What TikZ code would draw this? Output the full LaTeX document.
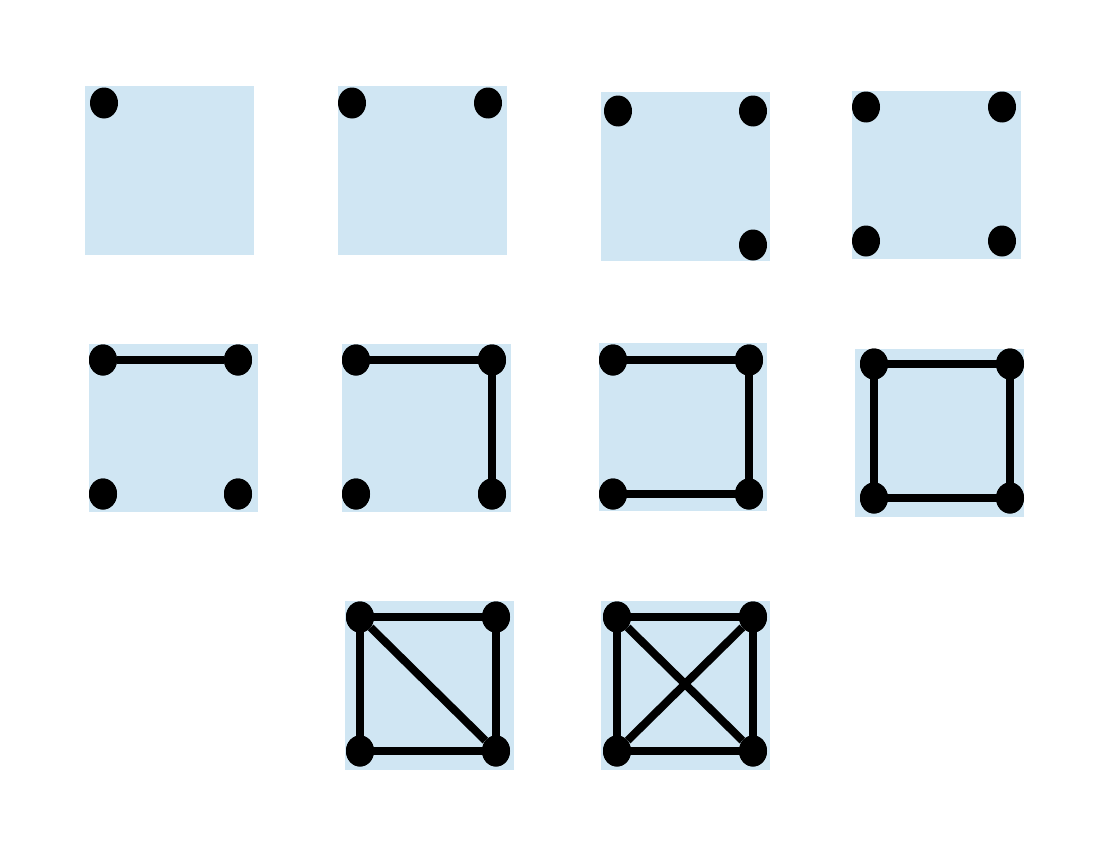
\documentclass[tikz,border=0pt]{standalone}
\usetikzlibrary{shapes.geometric}
\definecolor{panel}{RGB}{208,230,243}
\tikzset{
  vtx/.style={ellipse,fill=black,draw=none,minimum width=28pt,minimum height=31pt,inner sep=0pt},
  edge/.style={line width=8pt,draw=black},
  pnl/.style={fill=panel,draw=none}
}
\begin{document}
\begin{tikzpicture}[x=1pt,y=-1pt]
\useasboundingbox (0,0) rectangle (1102,867);
% panels
\fill[pnl] (85,86) rectangle (254,255);
\fill[pnl] (338,86) rectangle (507,255);
\fill[pnl] (601,92) rectangle (770,261);
\fill[pnl] (852,91) rectangle (1021,259);
\fill[pnl] (89,344) rectangle (258,512);
\fill[pnl] (342,344) rectangle (511,512);
\fill[pnl] (599,343) rectangle (767,511);
\fill[pnl] (855,349) rectangle (1024,517);
\fill[pnl] (345,601) rectangle (514,770);
\fill[pnl] (601,601) rectangle (770,770);
% panel 1
\node[vtx] (a1) at (104,103) {};
% panel 2
\node[vtx] (b1) at (352,103) {};
\node[vtx] (b2) at (488,103) {};
% panel 3
\node[vtx] (c1) at (618,111) {};
\node[vtx] (c2) at (753,111) {};
\node[vtx] (c4) at (753,245) {};
% panel 4
\node[vtx] (d1) at (866,107) {};
\node[vtx] (d2) at (1002,107) {};
\node[vtx] (d3) at (866,241) {};
\node[vtx] (d4) at (1002,241) {};
% panel 5
\node[vtx] (e1) at (103,360) {};
\node[vtx] (e2) at (238,360) {};
\node[vtx] (e3) at (103,494) {};
\node[vtx] (e4) at (238,494) {};
\draw[edge] (e1) -- (e2);
% panel 6
\node[vtx] (f1) at (356,360) {};
\node[vtx] (f2) at (492,360) {};
\node[vtx] (f3) at (356,494) {};
\node[vtx] (f4) at (492,494) {};
\draw[edge] (f1.center) -- (f2.center) -- (f4.center);
% panel 7
\node[vtx] (g1) at (613,360) {};
\node[vtx] (g2) at (749,360) {};
\node[vtx] (g3) at (613,494) {};
\node[vtx] (g4) at (749,494) {};
\draw[edge] (g1.center) -- (g2.center) -- (g4.center) -- (g3.center);
% panel 8
\node[vtx] (h1) at (874,364) {};
\node[vtx] (h2) at (1010,364) {};
\node[vtx] (h3) at (874,498) {};
\node[vtx] (h4) at (1010,498) {};
\draw[edge] (h1.center) -- (h2.center) -- (h4.center) -- (h3.center) -- cycle;
% panel 9
\node[vtx] (i1) at (360,617) {};
\node[vtx] (i2) at (496,617) {};
\node[vtx] (i3) at (360,751) {};
\node[vtx] (i4) at (496,751) {};
\draw[edge] (i1.center) -- (i2.center) -- (i4.center) -- (i3.center) -- cycle;
\draw[edge] (i1) -- (i4);
% panel 10
\node[vtx] (j1) at (617,617) {};
\node[vtx] (j2) at (753,617) {};
\node[vtx] (j3) at (617,751) {};
\node[vtx] (j4) at (753,751) {};
\draw[edge] (j1.center) -- (j2.center) -- (j4.center) -- (j3.center) -- cycle;
\draw[edge] (j1) -- (j4);
\draw[edge] (j2) -- (j3);
% redraw vertices on top
\foreach \n in {e1,e2,e3,e4,f1,f2,f3,f4,g1,g2,g3,g4,h1,h2,h3,h4,i1,i2,i3,i4,j1,j2,j3,j4}
  \fill (\n.center) ellipse (14pt and 15.5pt);
\end{tikzpicture}
\end{document}
